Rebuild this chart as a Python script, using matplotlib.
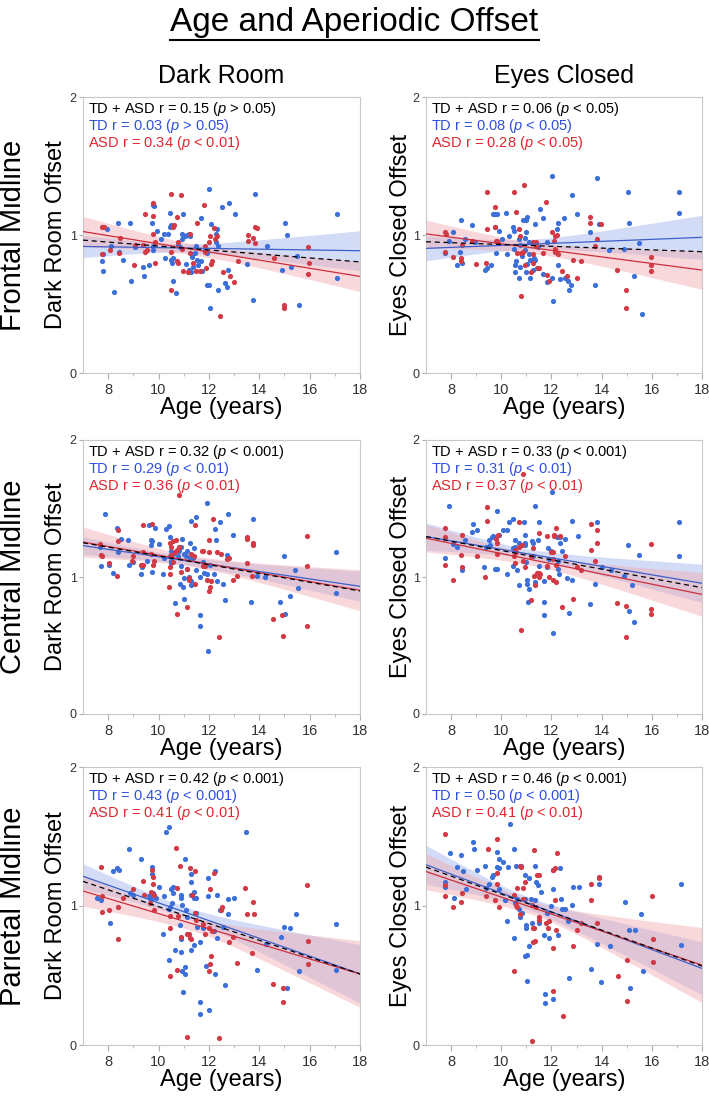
import matplotlib
matplotlib.use("Agg")
import matplotlib.pyplot as plt
import numpy as np
from matplotlib.lines import Line2D

plt.rcParams['font.family'] = ['Liberation Sans', 'DejaVu Sans']
plt.rcParams['mathtext.fontset'] = 'custom'
plt.rcParams['mathtext.rm'] = 'Liberation Sans'
plt.rcParams['mathtext.it'] = 'Liberation Sans:italic'

# ---- data: (age, offset) pairs ----
# Frontal midline, dark room
FD_TD = [(12.02, 1.33), (13.83, 1.30), (12.80, 1.23), (12.51, 1.20), (13.04, 1.15), (17.07, 1.15), (9.79, 1.22),
         (9.82, 1.21), (10.46, 1.16), (10.96, 1.15), (11.70, 1.12), (9.73, 1.09), (8.87, 1.09), (8.40, 1.09),
         (7.94, 1.04), (10.46, 1.06), (10.51, 1.07), (9.93, 1.03), (12.07, 1.08), (12.28, 1.01), (12.31, 1.04),
         (10.22, 1.01), (10.38, 1.01), (10.08, 0.97), (10.93, 1.01), (11.04, 0.99), (11.12, 1.00), (11.20, 1.01),
         (11.25, 0.99), (10.92, 0.97), (15.03, 1.09), (15.09, 1.00), (14.29, 0.92), (12.28, 0.95), (12.37, 0.92),
         (11.49, 0.92), (9.79, 0.92), (9.79, 0.89), (9.05, 0.91), (8.13, 0.92), (7.78, 0.86), (8.44, 0.88),
         (7.76, 0.81), (8.58, 0.82), (10.27, 0.83), (10.51, 0.82), (10.56, 0.83), (10.53, 0.80), (10.85, 0.91),
         (11.32, 0.86), (11.33, 0.84), (11.51, 0.82), (11.69, 0.81), (11.08, 0.79), (11.22, 0.75), (11.28, 0.73),
         (11.73, 0.74), (11.38, 0.77), (11.57, 0.78), (9.61, 0.78), (9.37, 0.77), (7.78, 0.74), (8.89, 0.67),
         (9.42, 0.70), (10.56, 0.67), (10.69, 0.58), (8.23, 0.59), (11.99, 0.64), (11.94, 0.64), (12.36, 0.60),
         (12.70, 0.62), (12.64, 0.65), (12.77, 0.75), (13.52, 0.79), (13.74, 0.53), (12.04, 0.47), (14.89, 0.75),
         (15.27, 0.77), (15.51, 0.85), (15.59, 0.49), (17.10, 0.69), (11.45, 0.87), (10.79, 0.93), (11.91, 0.87),
         (11.84, 0.89)]
FD_ASD = [(10.49, 1.30), (10.89, 1.29), (9.77, 1.23), (11.80, 1.22), (9.45, 1.15), (9.79, 1.14), (10.75, 1.13),
          (11.51, 1.09), (10.61, 1.07), (10.56, 1.06), (12.20, 1.05), (13.84, 1.06), (13.90, 1.05), (7.76, 1.06),
          (7.84, 1.06), (8.47, 0.98), (9.79, 1.01), (9.86, 0.95), (10.79, 0.95), (11.25, 1.01), (12.04, 0.99),
          (12.02, 0.95), (12.31, 0.99), (12.23, 0.97), (13.55, 1.00), (13.76, 0.98), (13.55, 0.96), (13.82, 0.94),
          (8.07, 0.89), (8.44, 0.87), (7.76, 0.86), (9.45, 0.88), (9.05, 0.93), (9.40, 0.93), (9.87, 0.80),
          (9.53, 0.89), (10.51, 0.88), (10.92, 0.90), (10.75, 0.81), (10.79, 0.80), (11.25, 0.87), (11.83, 0.92),
          (11.86, 0.88), (12.12, 0.81), (12.07, 0.79), (10.96, 0.74), (11.17, 0.73), (11.49, 0.74), (11.65, 0.74),
          (11.88, 0.76), (12.55, 0.73), (12.84, 0.70), (13.00, 0.66), (13.15, 0.81), (14.60, 0.83), (15.93, 0.91),
          (15.96, 0.80), (15.95, 0.72), (14.98, 0.49), (14.98, 0.47), (10.48, 0.60), (12.44, 0.41), (9.03, 0.78),
          (11.35, 0.80)]

# Frontal midline, eyes closed
FE_TD = [(12.02, 1.43), (13.83, 1.41), (12.80, 1.29), (15.05, 1.31), (17.09, 1.31), (17.09, 1.16), (15.10, 1.09),
         (13.03, 1.15), (12.50, 1.12), (12.28, 1.09), (11.67, 1.12), (11.54, 1.19), (10.19, 1.16), (9.66, 1.15),
         (9.76, 1.15), (9.81, 1.15), (8.38, 1.11), (8.83, 1.07), (8.09, 1.02), (9.76, 1.06), (9.89, 1.03),
         (10.48, 1.06), (10.51, 1.03), (10.88, 1.11), (10.98, 1.11), (11.04, 1.13), (11.33, 1.08), (10.98, 1.02),
         (10.96, 0.98), (11.09, 0.95), (11.25, 0.94), (10.32, 0.99), (10.03, 0.97), (10.69, 0.97), (10.74, 0.93),
         (8.57, 0.97), (8.94, 0.95), (8.35, 0.88), (7.74, 0.87), (7.93, 0.96), (8.22, 0.78), (8.43, 0.80),
         (9.42, 0.76), (9.36, 0.75), (9.59, 0.78), (9.79, 0.87), (10.24, 0.86), (10.51, 0.90), (10.82, 0.85),
         (10.96, 0.89), (11.09, 0.86), (11.14, 0.82), (11.30, 0.83), (11.36, 0.82), (10.58, 0.81), (10.56, 0.78),
         (10.74, 0.77), (11.01, 0.79), (10.98, 0.73), (11.28, 0.75), (11.43, 0.76), (10.53, 0.73), (10.69, 0.69),
         (11.14, 0.69), (11.67, 0.72), (11.83, 0.66), (12.02, 0.69), (12.34, 0.68), (12.55, 0.69), (12.64, 0.67),
         (12.78, 0.64), (12.68, 0.60), (12.05, 0.52), (12.22, 1.04), (12.26, 0.78), (11.81, 0.95), (13.53, 1.02),
         (13.90, 1.08), (14.30, 0.89), (14.89, 0.90), (15.50, 0.94), (15.27, 0.70), (13.75, 0.64), (15.59, 0.43),
         (11.46, 0.91)]
FE_ASD = [(9.44, 1.31), (10.49, 1.31), (10.89, 1.36), (11.78, 1.24), (9.76, 1.20), (10.59, 1.17), (9.76, 1.06),
          (9.42, 1.04), (10.72, 1.04), (7.74, 1.02), (7.80, 1.01), (8.43, 0.93), (8.83, 0.96), (9.84, 0.96),
          (9.87, 0.94), (9.79, 0.96), (10.74, 0.99), (11.28, 0.95), (11.38, 0.95), (12.02, 1.02), (12.13, 0.99),
          (12.23, 1.00), (12.10, 0.96), (13.53, 1.13), (13.53, 1.09), (13.98, 1.08), (13.83, 0.97), (13.75, 0.92),
          (12.13, 0.90), (12.15, 0.88), (12.28, 0.86), (12.86, 0.82), (13.16, 0.81), (10.61, 0.87), (10.80, 0.87),
          (10.85, 0.88), (11.28, 0.86), (11.67, 0.87), (7.74, 0.88), (8.09, 0.84), (8.41, 0.83), (8.41, 0.81),
          (8.99, 0.79), (9.39, 0.80), (10.93, 0.78), (11.25, 0.80), (11.46, 0.76), (11.51, 0.76), (11.17, 0.73),
          (11.83, 0.71), (11.89, 0.67), (12.44, 0.74), (12.60, 0.70), (13.00, 0.69), (14.60, 0.75), (15.95, 0.84),
          (15.95, 0.78), (15.95, 0.74), (14.99, 0.60), (14.99, 0.47), (10.77, 0.56), (11.38, 0.92)]

# Central midline, dark room
CD_TD = [(11.94, 1.54), (7.89, 1.46), (12.74, 1.46), (11.47, 1.44), (11.28, 1.41), (12.44, 1.40), (13.76, 1.42),
         (12.23, 1.35), (12.97, 1.31), (8.34, 1.36), (8.52, 1.28), (8.79, 1.27), (9.63, 1.38), (9.87, 1.36),
         (9.71, 1.27), (9.74, 1.26), (9.71, 1.23), (10.30, 1.35), (10.43, 1.37), (10.01, 1.24), (10.46, 1.29),
         (10.92, 1.28), (10.88, 1.22), (10.83, 1.19), (10.77, 1.15), (10.51, 1.19), (10.46, 1.15), (11.25, 1.25),
         (11.41, 1.21), (11.12, 1.19), (11.02, 1.17), (11.25, 1.14), (11.38, 1.14), (12.28, 1.27), (12.73, 1.16),
         (8.39, 1.18), (7.68, 1.22), (7.70, 1.08), (8.18, 1.03), (8.02, 1.09), (8.84, 1.09), (8.97, 1.11),
         (9.34, 1.07), (9.32, 1.02), (9.56, 1.12), (9.74, 1.04), (10.16, 1.02), (10.22, 1.14), (10.51, 1.12),
         (10.51, 1.10), (10.88, 1.08), (11.12, 1.06), (11.01, 0.99), (10.85, 0.95), (10.96, 0.93), (11.20, 1.00),
         (11.28, 0.97), (11.28, 0.94), (11.65, 1.00), (11.80, 1.03), (11.91, 1.02), (12.20, 1.02), (12.31, 0.97),
         (12.57, 0.95), (11.49, 1.05), (11.78, 1.11), (12.04, 1.09), (10.67, 0.81), (11.01, 0.84), (11.65, 0.72),
         (11.65, 0.64), (11.96, 0.46), (12.62, 0.83), (13.90, 1.01), (14.24, 1.00), (14.98, 1.15), (15.43, 1.05),
         (15.54, 0.92), (15.22, 0.86), (14.82, 0.82), (15.01, 0.73), (13.68, 0.82), (17.04, 1.18), (17.04, 0.88),
         (11.09, 1.15), (10.59, 1.17)]
CD_ASD = [(10.83, 1.60), (12.18, 1.42), (11.46, 1.38), (9.37, 1.38), (9.74, 1.39), (8.39, 1.34), (8.39, 1.26),
          (7.68, 1.24), (7.73, 1.16), (7.76, 1.15), (8.97, 1.15), (9.37, 1.18), (9.69, 1.17), (9.82, 1.12),
          (9.79, 1.09), (9.32, 1.09), (9.37, 1.09), (10.46, 1.25), (10.48, 1.22), (10.56, 1.26), (10.69, 1.27),
          (10.75, 1.20), (10.80, 1.22), (10.67, 1.18), (10.49, 1.16), (10.56, 1.11), (10.46, 1.07), (10.46, 1.02),
          (10.43, 0.93), (10.88, 1.04), (11.12, 1.06), (11.30, 1.17), (11.41, 1.15), (11.20, 0.99), (11.46, 0.95),
          (11.22, 0.98), (11.73, 1.19), (11.78, 1.19), (12.02, 1.18), (12.02, 1.27), (12.31, 1.18), (12.48, 1.17),
          (12.73, 1.13), (12.78, 1.14), (11.78, 1.08), (11.86, 1.08), (11.91, 0.98), (12.07, 0.97), (12.04, 0.93),
          (11.99, 0.90), (13.50, 1.29), (13.50, 1.28), (13.76, 1.25), (13.76, 1.23), (13.50, 1.10), (13.71, 1.01),
          (13.10, 1.01), (12.97, 0.98), (15.91, 1.30), (15.91, 1.08), (15.88, 0.64), (14.53, 0.69), (14.90, 0.72),
          (14.93, 0.57), (12.39, 0.56), (11.12, 0.78), (10.72, 0.73), (8.02, 1.10), (8.36, 1.01), (8.95, 1.12)]

# Central midline, eyes closed
CE_TD = [(7.93, 1.52), (9.81, 1.48), (11.34, 1.52), (12.02, 1.62), (8.88, 1.39), (9.02, 1.34), (8.82, 1.33),
         (10.05, 1.34), (10.24, 1.34), (10.32, 1.40), (10.48, 1.42), (10.90, 1.40), (11.51, 1.40), (12.82, 1.41),
         (13.83, 1.40), (17.09, 1.40), (13.05, 1.30), (9.68, 1.30), (9.63, 1.29), (9.89, 1.31), (9.52, 1.27),
         (9.55, 1.23), (9.39, 1.22), (10.53, 1.27), (10.56, 1.22), (10.69, 1.25), (10.93, 1.31), (10.96, 1.25),
         (10.93, 1.23), (11.22, 1.26), (11.25, 1.25), (11.46, 1.27), (12.23, 1.29), (12.36, 1.29), (12.52, 1.28),
         (12.34, 1.25), (11.86, 1.21), (11.97, 1.19), (12.42, 1.19), (8.09, 1.24), (8.22, 1.22), (8.57, 1.27),
         (7.74, 1.14), (8.43, 1.05), (9.31, 1.07), (9.76, 1.06), (9.81, 1.06), (10.21, 1.02), (10.48, 1.08),
         (10.61, 1.05), (10.98, 1.11), (11.28, 1.15), (11.51, 1.08), (11.81, 1.07), (11.91, 1.13), (12.28, 1.12),
         (12.26, 1.06), (12.31, 1.02), (12.60, 0.99), (12.82, 0.98), (11.01, 0.98), (11.04, 0.95), (11.12, 0.91),
         (10.72, 0.94), (11.70, 0.97), (11.36, 0.96), (11.06, 0.82), (11.70, 0.82), (11.70, 0.72), (12.68, 0.74),
         (12.05, 0.59), (13.75, 0.95), (13.53, 0.80), (14.01, 1.07), (14.36, 1.05), (14.91, 1.01), (15.05, 1.23),
         (15.50, 1.16), (15.23, 0.94), (15.10, 0.75), (15.29, 0.67), (17.09, 1.15), (10.48, 1.21)]
CE_ASD = [(10.88, 1.75), (9.44, 1.51), (9.44, 1.41), (10.72, 1.40), (9.87, 1.31), (9.79, 1.28), (9.84, 1.25),
          (9.84, 1.17), (9.04, 1.15), (7.74, 1.36), (7.74, 1.29), (7.77, 1.09), (8.43, 1.31), (8.41, 1.16),
          (8.43, 1.07), (9.36, 1.00), (8.06, 0.98), (10.53, 1.20), (10.51, 1.15), (10.53, 1.10), (10.58, 1.18),
          (10.72, 1.22), (10.82, 1.23), (10.88, 1.12), (11.20, 1.15), (11.25, 1.21), (11.49, 1.32), (11.81, 1.30),
          (12.10, 1.31), (12.10, 1.30), (12.20, 1.36), (12.34, 1.30), (11.83, 1.08), (11.99, 1.18), (12.05, 1.18),
          (12.07, 1.13), (12.18, 1.09), (11.89, 1.00), (12.05, 0.98), (12.18, 0.96), (10.96, 1.07), (11.30, 1.01),
          (11.41, 1.03), (11.49, 1.03), (11.51, 1.00), (11.33, 0.94), (11.20, 0.83), (12.55, 1.15), (12.84, 0.84),
          (12.44, 0.78), (10.77, 0.61), (13.00, 1.07), (13.16, 1.05), (13.56, 1.39), (13.80, 1.34), (13.83, 1.25),
          (13.56, 1.20), (13.75, 1.12), (14.62, 0.81), (14.99, 0.79), (14.99, 0.56), (15.95, 1.24), (15.98, 0.77),
          (15.98, 0.73), (11.54, 1.02)]

# Parietal midline, dark room
PD_TD = [(10.30, 1.53), (10.43, 1.57), (13.47, 1.53), (8.81, 1.41), (9.32, 1.34), (11.06, 1.34), (8.18, 1.25),
         (8.34, 1.27), (8.44, 1.26), (9.74, 1.28), (9.74, 1.23), (11.96, 1.20), (11.30, 1.23), (11.28, 1.17),
         (12.25, 1.25), (7.57, 1.06), (7.73, 1.04), (8.07, 0.88), (8.87, 1.09), (9.00, 1.08), (9.61, 1.07),
         (9.69, 1.05), (9.79, 1.09), (9.90, 1.06), (10.01, 1.14), (10.22, 1.07), (10.51, 1.12), (10.56, 1.14),
         (10.56, 1.09), (10.88, 1.08), (10.90, 1.06), (10.93, 1.01), (11.30, 1.08), (11.41, 1.06), (11.49, 1.06),
         (11.41, 1.10), (11.96, 1.07), (12.33, 1.08), (12.76, 1.05), (13.00, 1.06), (10.53, 1.02), (10.46, 0.99),
         (10.40, 0.98), (11.09, 0.97), (11.14, 0.92), (11.49, 0.95), (11.51, 0.85), (11.78, 0.84), (12.20, 0.82),
         (12.31, 0.77), (12.44, 0.97), (12.76, 0.94), (12.57, 0.85), (10.85, 0.86), (10.88, 0.76), (10.67, 0.68),
         (10.88, 0.67), (10.16, 0.80), (10.43, 0.61), (10.93, 0.53), (11.04, 0.51), (11.06, 0.56), (11.28, 0.68),
         (11.41, 0.72), (11.65, 0.74), (11.88, 0.57), (12.23, 0.51), (10.98, 0.38), (11.65, 0.31), (11.65, 0.22),
         (11.99, 0.25), (12.62, 0.43), (13.90, 0.54), (14.98, 0.85), (15.22, 0.84), (15.46, 0.94), (14.85, 0.78),
         (15.09, 0.41), (15.56, 0.53), (17.04, 0.87), (17.04, 0.54), (14.27, 0.73), (9.66, 1.06)]
PD_ASD = [(10.69, 1.42), (10.85, 1.29), (11.25, 1.27), (11.46, 1.25), (12.20, 1.24), (9.74, 1.26), (9.77, 1.21),
          (9.40, 1.18), (9.77, 1.16), (9.00, 1.12), (10.72, 1.13), (11.33, 1.08), (12.04, 1.12), (13.45, 1.13),
          (15.91, 1.15), (7.70, 1.28), (7.76, 1.07), (7.76, 0.96), (8.05, 0.97), (8.39, 0.99), (8.39, 0.76),
          (8.58, 1.06), (9.42, 1.08), (9.71, 1.10), (9.82, 1.08), (9.66, 1.02), (9.82, 0.97), (10.46, 0.93),
          (10.46, 0.84), (10.77, 0.93), (10.88, 0.78), (11.12, 0.80), (11.20, 0.80), (11.25, 0.77), (11.28, 0.76),
          (11.46, 0.95), (11.86, 0.80), (12.02, 0.84), (12.04, 0.58), (11.99, 0.53), (12.10, 0.64), (12.52, 0.99),
          (12.47, 0.97), (12.81, 0.74), (12.97, 0.78), (13.10, 0.59), (13.71, 0.66), (13.76, 1.03), (13.79, 0.94),
          (13.50, 0.94), (10.46, 0.50), (10.72, 0.54), (12.12, 0.82), (11.49, 0.90), (15.93, 0.75), (15.93, 0.58),
          (14.56, 0.44), (14.95, 0.41), (14.95, 0.31), (11.14, 0.06), (12.39, 0.05), (11.78, 0.87)]

# Parietal midline, eyes closed
PE_TD = [(10.35, 1.59), (8.86, 1.46), (8.91, 1.41), (7.96, 1.38), (8.38, 1.37), (8.25, 1.28), (8.46, 1.25),
         (9.04, 1.26), (9.36, 1.29), (9.81, 1.39), (9.92, 1.34), (10.08, 1.32), (10.27, 1.28), (10.51, 1.41),
         (10.58, 1.29), (9.89, 1.27), (9.84, 1.28), (9.63, 1.21), (9.68, 1.22), (10.77, 1.29), (10.93, 1.22),
         (11.12, 1.20), (11.36, 1.29), (11.46, 1.15), (11.38, 1.17), (11.57, 1.10), (12.05, 1.26), (12.05, 1.12),
         (12.34, 1.27), (12.39, 1.05), (12.42, 0.98), (12.55, 0.98), (12.84, 1.14), (13.08, 1.14), (12.82, 1.01),
         (13.88, 1.16), (14.94, 1.03), (15.55, 0.94), (17.17, 1.16), (17.17, 0.72), (15.10, 0.83), (15.34, 0.83),
         (7.77, 1.17), (7.74, 1.14), (8.11, 1.06), (8.59, 1.12), (9.39, 1.13), (9.52, 1.16), (9.89, 1.12),
         (10.13, 1.04), (10.24, 0.89), (10.51, 1.07), (10.53, 1.02), (10.61, 1.05), (10.69, 0.98), (10.82, 0.95),
         (10.96, 1.05), (11.17, 1.05), (11.36, 1.04), (10.74, 0.92), (10.98, 0.86), (10.98, 0.84), (11.22, 0.88),
         (11.49, 0.88), (11.81, 0.95), (11.70, 0.79), (11.91, 0.77), (12.28, 0.79), (12.66, 0.89), (11.97, 1.00),
         (10.93, 0.64), (11.04, 0.65), (11.12, 0.71), (10.51, 0.77), (11.04, 0.46), (11.73, 0.37), (11.73, 0.30),
         (12.07, 0.33), (12.71, 0.48), (13.56, 0.55), (13.80, 0.73), (14.33, 0.71), (13.98, 0.45), (15.13, 0.41),
         (15.63, 0.53)]
PE_ASD = [(7.74, 1.52), (9.81, 1.48), (9.47, 1.41), (11.30, 1.40), (12.23, 1.38), (10.74, 1.29), (10.80, 1.28),
          (11.41, 1.22), (11.51, 1.22), (12.13, 1.27), (12.07, 1.26), (13.88, 1.21), (13.88, 1.20), (13.56, 1.16),
          (13.56, 1.04), (7.77, 1.15), (7.77, 1.07), (8.06, 0.99), (8.43, 1.09), (8.41, 1.03), (9.39, 1.07),
          (9.81, 1.24), (9.84, 1.16), (9.76, 1.04), (9.89, 0.99), (10.61, 1.13), (10.51, 1.08), (10.58, 1.01),
          (10.74, 0.94), (10.64, 0.99), (10.93, 1.17), (10.88, 1.05), (11.22, 1.01), (11.38, 0.99), (11.49, 0.92),
          (11.49, 0.90), (11.30, 0.84), (11.25, 0.84), (11.36, 0.75), (11.28, 0.74), (11.78, 0.88), (11.89, 0.89),
          (12.18, 0.83), (11.86, 0.84), (12.07, 0.70), (12.15, 1.04), (13.03, 0.83), (13.19, 0.88), (13.80, 0.88),
          (12.87, 0.71), (10.51, 0.53), (12.05, 0.39), (12.47, 0.21), (11.22, 0.03), (14.65, 0.50), (15.02, 0.61),
          (15.02, 0.32), (16.00, 1.07), (16.03, 0.76), (16.03, 0.60), (10.88, 1.13)]

# fitted lines: offset at age 7 and at age 18 (all, TD, ASD)
FD_FIT = [(0.963, 0.805), (0.917, 0.886), (1.025, 0.700)]
FE_FIT = [(0.951, 0.879), (0.903, 0.983), (1.008, 0.746)]
CD_FIT = [(1.250, 0.898), (1.229, 0.932), (1.255, 0.903)]
CE_FIT = [(1.295, 0.922), (1.295, 0.954), (1.283, 0.873)]
PD_FIT = [(1.177, 0.511), (1.214, 0.512), (1.108, 0.511)]
PE_FIT = [(1.280, 0.568), (1.297, 0.551), (1.248, 0.575)]

# confidence band half-widths: (at age 7, age of narrowest point, narrowest, at age 18) for TD, ASD
FD_CI = [(0.08, 11.0, 0.030, 0.145), (0.11, 11.5, 0.040, 0.11)]
FE_CI = [(0.09, 11.0, 0.035, 0.160), (0.10, 11.3, 0.040, 0.14)]
CD_CI = [(0.065, 11.0, 0.030, 0.110), (0.11, 11.3, 0.040, 0.15)]
CE_CI = [(0.10, 11.0, 0.035, 0.140), (0.10, 11.3, 0.040, 0.16)]
PD_CI = [(0.09, 11.0, 0.040, 0.210), (0.11, 11.3, 0.050, 0.24)]
PE_CI = [(0.14, 11.0, 0.045, 0.190), (0.13, 11.3, 0.050, 0.27)]

# correlation labels
FD_R = ['0.15', '>', '0.05', '0.03', '>', '0.05', '0.34', '<', '0.01']
FE_R = ['0.06', '<', '0.05', '0.08', '<', '0.05', '0.28', '<', '0.05']
CD_R = ['0.32', '<', '0.001', '0.29', '<', '0.01', '0.36', '<', '0.01']
CE_R = ['0.33', '<', '0.001', '0.31', '<', '0.01', '0.37', '<', '0.01']
PD_R = ['0.42', '<', '0.001', '0.43', '<', '0.001', '0.41', '<', '0.01']
PE_R = ['0.46', '<', '0.001', '0.50', '<', '0.001', '0.41', '<', '0.01']

ROWS = ['Frontal Midline', 'Central Midline', 'Parietal Midline']
COLS = ['Dark Room', 'Eyes Closed']
YLABELS = ['Dark Room Offset', 'Eyes Closed Offset']

PANELS = [
    [(FD_TD, FD_ASD, FD_FIT, FD_CI, FD_R), (FE_TD, FE_ASD, FE_FIT, FE_CI, FE_R)],
    [(CD_TD, CD_ASD, CD_FIT, CD_CI, CD_R), (CE_TD, CE_ASD, CE_FIT, CE_CI, CE_R)],
    [(PD_TD, PD_ASD, PD_FIT, PD_CI, PD_R), (PE_TD, PE_ASD, PE_FIT, PE_CI, PE_R)],
]

BLUE_DOT, RED_DOT = '#3c6fd8', '#d23a46'
BLUE_LINE, RED_LINE = '#3d5fc9', '#cc2f3c'
BLUE_TXT, RED_TXT = '#2f4fe0', '#e2262f'
BLUE_BAND, RED_BAND = '#9fb3ec', '#f2a9b2'


def band_halfwidth(x, h7, xm, hm, h18):
    edge = np.where(x < xm, h7, h18)
    span = np.where(x < xm, xm - 7, 18 - xm)
    return np.sqrt(hm ** 2 + (edge ** 2 - hm ** 2) * ((x - xm) / span) ** 2)


fig = plt.figure(figsize=(7.09, 10.99), dpi=100)

col_left = [83 / 709, 426 / 709]
col_w = [277 / 709, 276 / 709]
row_bot = [1 - 373 / 1099, 1 - 714 / 1099, 1 - 1045 / 1099]
row_h = [276 / 1099, 274 / 1099, 278 / 1099]
ylab_x = [-0.097, -0.092]

xs = np.linspace(7, 18, 120)
for i in range(3):
    for j in range(2):
        td, asd, fit, ci, r = PANELS[i][j]
        ax = fig.add_axes([col_left[j], row_bot[i], col_w[j], row_h[i]])
        td = np.array(td).T
        asd = np.array(asd).T

        # bands
        for (y7, y18), c, band in ((fit[1], BLUE_BAND, ci[0]), (fit[2], RED_BAND, ci[1])):
            mid = y7 + (y18 - y7) * (xs - 7) / 11
            hw = band_halfwidth(xs, *band)
            ax.fill_between(xs, mid - hw, mid + hw, color=c, alpha=0.45, lw=0, zorder=1)

        ax.scatter(td[0], td[1], s=14, color=BLUE_DOT, lw=0, zorder=3)
        ax.scatter(asd[0], asd[1], s=14, color=RED_DOT, lw=0, zorder=3)

        ax.plot([7, 18], fit[1], color=BLUE_LINE, lw=0.9, zorder=4)
        ax.plot([7, 18], fit[2], color=RED_LINE, lw=0.9, zorder=4)
        ax.plot([7, 18], fit[0], color='black', lw=0.9, ls=(0, (4, 3)), zorder=5)

        ax.set_xlim(7, 18)
        ax.set_ylim(0, 2)
        ax.set_xticks([8, 10, 12, 14, 16, 18])
        ax.set_xticks([9, 11, 13, 15, 17], minor=True)
        ax.set_yticks([0, 1, 2])
        ax.tick_params(which='both', direction='out', color='#b0b0b0', labelcolor='#333333')
        ax.tick_params(axis='x', which='major', length=4, labelsize=10.5, pad=3)
        ax.tick_params(axis='x', which='minor', length=2.5)
        ax.tick_params(axis='y', length=3, labelsize=9, pad=1.5)
        for sp in ax.spines.values():
            sp.set_color('#c8c8c8')
            sp.set_linewidth(0.8)

        # correlation text
        step = 17 / (row_h[i] * 1099)
        y0 = 1 - 12 / (row_h[i] * 1099)
        lines = [('TD + ASD r = %s ($\\mathit{p}$ %s %s)' % tuple(r[0:3]), 'black'),
                 ('TD r = %s ($\\mathit{p}$ %s %s)' % tuple(r[3:6]), BLUE_TXT),
                 ('ASD r = %s ($\\mathit{p}$ %s %s)' % tuple(r[6:9]), RED_TXT)]
        for k, (txt, c) in enumerate(lines):
            ax.text(0.018, y0 - k * step, txt, color=c, fontsize=10.5, transform=ax.transAxes,
                    ha='left', va='center', zorder=6)

        ax.text(0.5, -35 / (row_h[i] * 1099), 'Age (years)', fontsize=17, transform=ax.transAxes,
                ha='center', va='center')
        ax.text(ylab_x[j], 0.5, YLABELS[j], fontsize=17, rotation=90, transform=ax.transAxes,
                ha='center', va='center')

    fig.text(0.018, row_bot[i] + row_h[i] / 2, ROWS[i], fontsize=21, rotation=90, ha='center', va='center')

for j in range(2):
    fig.text(col_left[j] + col_w[j] / 2, 1 - 76 / 1099, COLS[j], fontsize=18, ha='center', va='center')

title = fig.text(0.5, 1 - 22 / 1099, 'Age and Aperiodic Offset', fontsize=24, ha='center', va='center')
fig.canvas.draw()
bb = title.get_window_extent().transformed(fig.transFigure.inverted())
fig.add_artist(Line2D([bb.x0, bb.x1], [bb.y0 - 0.002, bb.y0 - 0.002], color='black', lw=1.5,
                      transform=fig.transFigure))

fig.savefig('out.png', dpi=100)
